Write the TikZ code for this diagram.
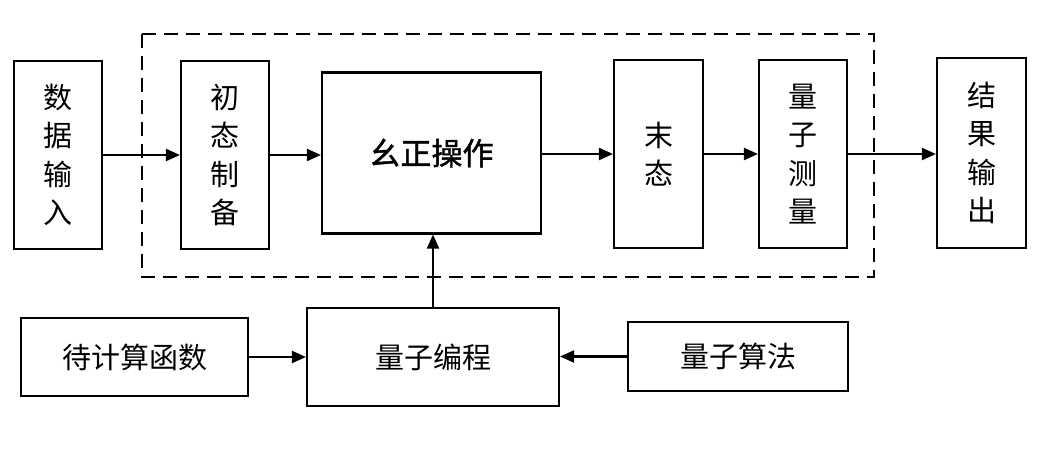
\documentclass[tikz,border=0pt]{standalone}
\usepackage{fontspec}
\setmainfont{Noto Sans CJK SC}
\newfontfamily\semibold[FakeBold=1.3]{Noto Sans CJK SC}
\usetikzlibrary{arrows.meta}
\begin{document}
\begin{tikzpicture}[x=1pt,y=-1pt,
  box/.style={draw,line width=2.1pt,inner sep=0pt,align=center,font=\fontsize{29}{38.5}\selectfont},
  arr/.style={line width=2.1pt,-{Triangle[length=14pt,width=12pt]}},
  dashbox/.style={draw,line width=2.1pt,dash pattern=on 14pt off 8pt}]
\useasboundingbox (0,0) rectangle (1052,450);
\draw[dashbox] (142,34) rectangle (874,277);
\node[box,minimum width=88pt,minimum height=188pt] (in) at (58,155) {数\\据\\输\\入};
\node[box,minimum width=88pt,minimum height=188pt] (prep) at (225,155) {初\\态\\制\\备};
\node[box,minimum width=219pt,minimum height=161pt,font=\fontsize{31}{38}\semibold] (U) at (431.5,153) {幺正操作};
\node[box,minimum width=89pt,minimum height=188pt] (fin) at (658.5,154) {末\\态};
\node[box,minimum width=88pt,minimum height=188pt] (meas) at (803,154) {量\\子\\测\\量};
\node[box,minimum width=89pt,minimum height=190pt] (out) at (981.5,153) {结\\果\\输\\出};
\node[box,minimum width=227pt,minimum height=78pt] (func) at (134.5,357) {待计算函数};
\node[box,minimum width=252pt,minimum height=98pt] (prog) at (433,357) {量子编程};
\node[box,minimum width=220pt,minimum height=69pt] (algo) at (738,356.5) {量子算法};
\draw[arr] (in.east) -- (prep.west);
\draw[arr] (prep.east) -- (prep.east -| U.west);
\draw[arr] (U.east |- fin.west) -- (fin.west);
\draw[arr] (fin.east) -- (meas.west);
\draw[arr] (meas.east) -- (meas.east -| out.west);
\draw[arr] (prog.north) -- (prog.north |- U.south);
\draw[arr] (func.east) -- (func.east -| prog.west);
\draw[arr] (algo.west) -- (algo.west -| prog.east);
\end{tikzpicture}
\end{document}
